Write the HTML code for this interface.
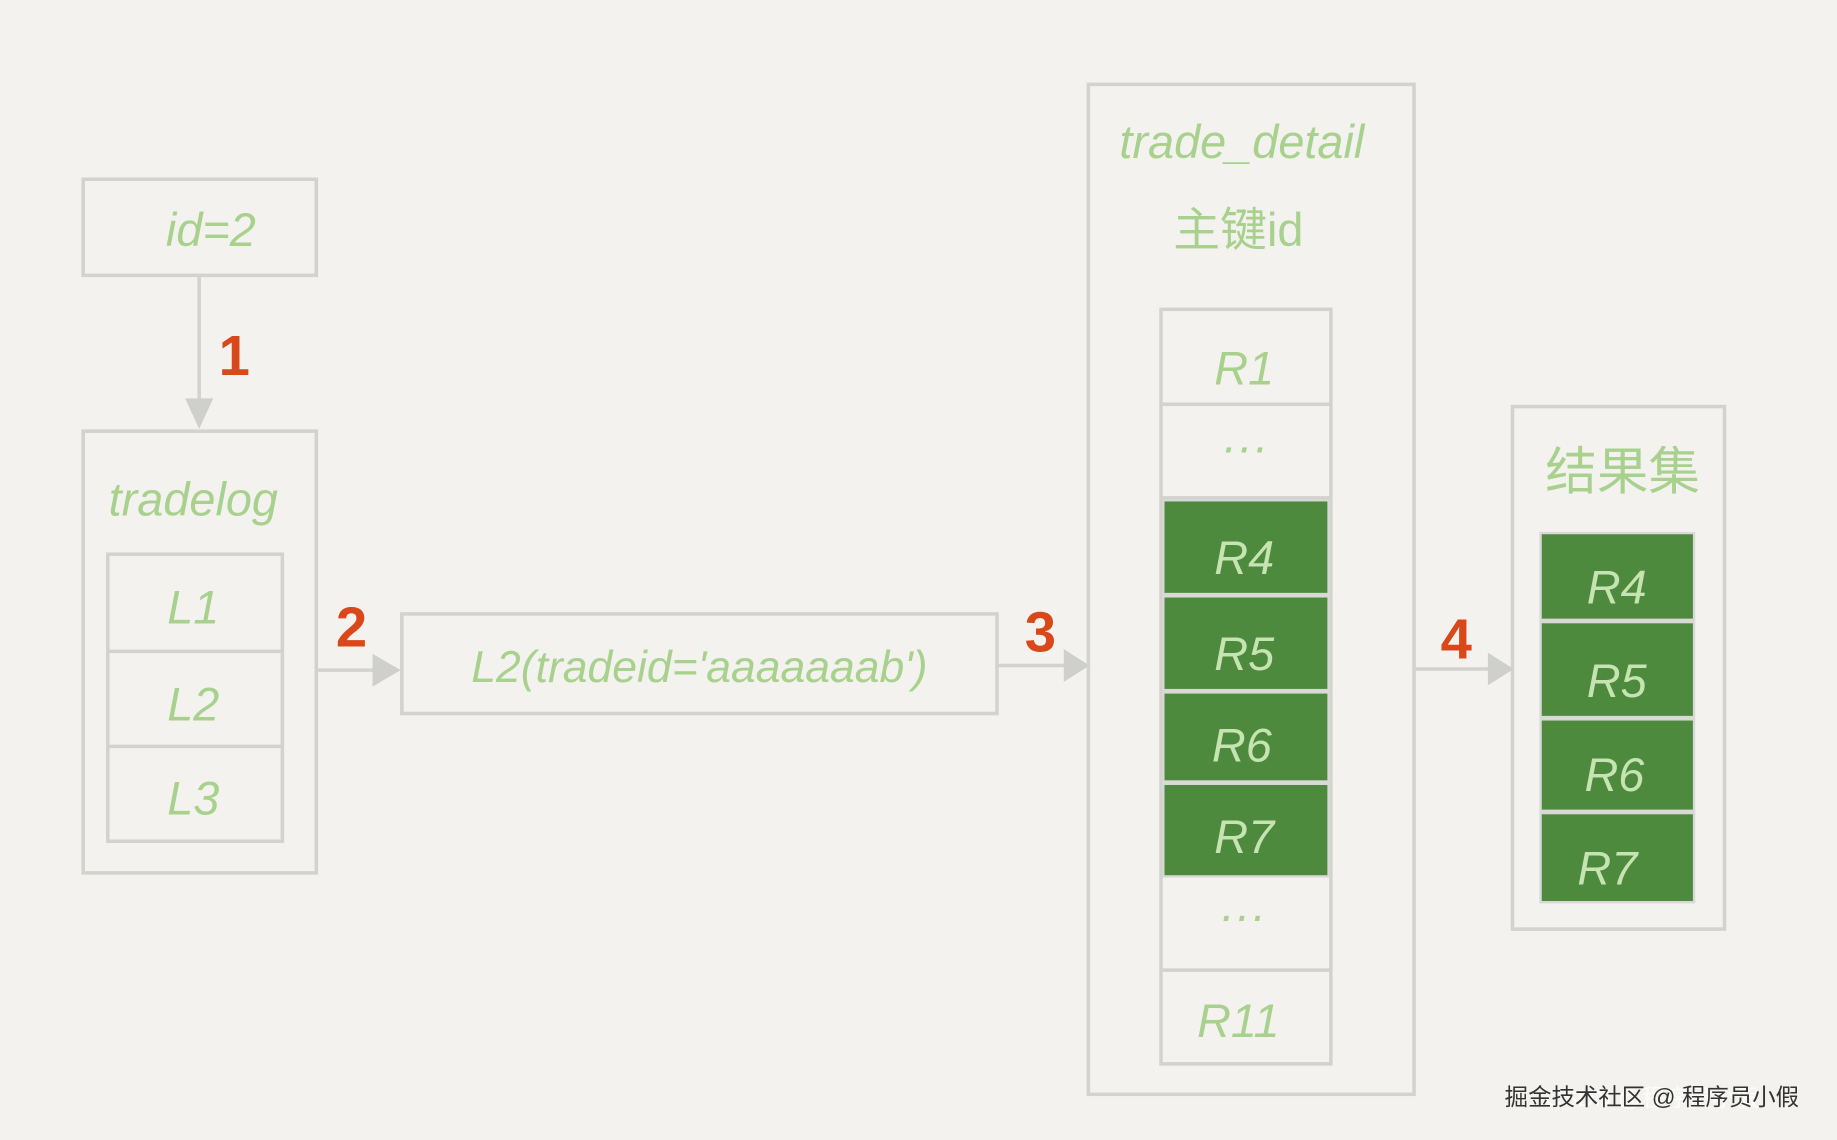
<!DOCTYPE html>
<html><head><meta charset="utf-8"><style>
html,body{margin:0;padding:0;background:#f3f2ee;}
svg{display:block}
text{font-family:"Liberation Sans","Noto Sans CJK SC",sans-serif;}
</style></head><body>
<svg width="1837" height="1140" viewBox="0 0 1568 973" preserveAspectRatio="none" xmlns="http://www.w3.org/2000/svg">
<rect width="1568" height="973" fill="#f3f2ee"/>
<g fill="none" stroke="#d2d2ce" stroke-width="3">
<rect x="71" y="153" width="199" height="82"/>
<rect x="71" y="368" width="199" height="377"/>
<rect x="92" y="473" width="149" height="245"/>
<line x1="92" y1="556" x2="241" y2="556"/>
<line x1="92" y1="637" x2="241" y2="637"/>
<rect x="343" y="524" width="508" height="85"/>
<rect x="929" y="72" width="278" height="862"/>
<rect x="991" y="264" width="145" height="644"/>
<line x1="991" y1="345" x2="1136" y2="345"/>
<line x1="991" y1="425" x2="1136" y2="425"/>
<line x1="991" y1="828" x2="1136" y2="828"/>
<rect x="1291" y="347" width="181" height="446"/>
<line x1="170" y1="235" x2="170" y2="345"/>
<line x1="270" y1="572" x2="320" y2="572"/>
<line x1="851" y1="568" x2="910" y2="568"/>
<line x1="1207" y1="571" x2="1272" y2="571"/>
</g>
<g fill="#cfcfcb">
<polygon points="158,340 182,340 170,366"/>
<polygon points="318,558 318,586 342,572"/>
<polygon points="908,554 908,582 930,568"/>
<polygon points="1270,557 1270,585 1292,571"/>
</g>
<g fill="#4e8a3e" stroke="#d8d8d4" stroke-width="2">
<rect x="993" y="427" width="141" height="80"/>
<rect x="993" y="509" width="141" height="80"/>
<rect x="993" y="591" width="141" height="76"/>
<rect x="993" y="669" width="141" height="79"/>
<rect x="1315" y="455" width="131" height="74"/>
<rect x="1315" y="531" width="131" height="81"/>
<rect x="1315" y="614" width="131" height="78"/>
<rect x="1315" y="694" width="131" height="76"/>
</g>
<g fill="#a9d18e" font-style="italic" text-anchor="middle" font-size="40">
<text x="180" y="210">id=2</text>
<text x="165" y="440">tradelog</text>
<text x="165" y="532">L1</text>
<text x="165" y="615">L2</text>
<text x="165" y="695">L3</text>
<text x="597" y="582" font-size="38">L2(tradeid='aaaaaaab')</text>
<text x="1060" y="135">trade_detail</text>
<text x="1057" y="210" font-style="normal">主键id</text>
<text x="1062" y="328">R1</text>
<text x="1062" y="395">···</text>
<text x="1060" y="795">···</text>
<text x="1057" y="885">R11</text>
<text x="1385" y="418" font-style="normal" font-size="44">结果集</text>
</g>
<g fill="#c6e3b2" font-style="italic" text-anchor="middle" font-size="40">
<text x="1062" y="490">R4</text>
<text x="1062" y="572">R5</text>
<text x="1060" y="650">R6</text>
<text x="1062" y="728">R7</text>
<text x="1380" y="515">R4</text>
<text x="1380" y="595">R5</text>
<text x="1378" y="675">R6</text>
<text x="1372" y="755">R7</text>
</g>
<g fill="#d9481a" font-weight="bold" text-anchor="middle" font-size="48">
<text x="200" y="320">1</text>
<text x="300" y="552">2</text>
<text x="888" y="556">3</text>
<text x="1243" y="562">4</text>
</g>
<text x="1410" y="944" text-anchor="middle" font-size="20" fill="#ffffff" opacity="0.8">CSDN @程序员小假</text>
<text x="1410" y="943" text-anchor="middle" font-size="20" fill="#333333">掘金技术社区 @ 程序员小假</text>
</svg>
</body></html>
